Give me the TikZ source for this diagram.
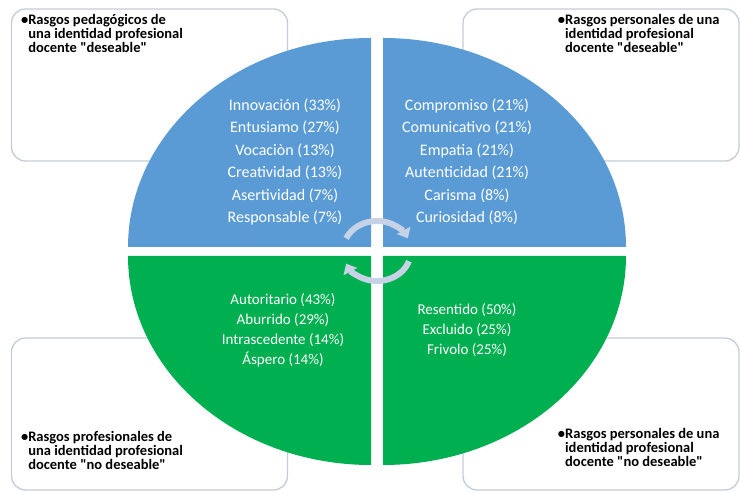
\documentclass[tikz,border=0pt]{standalone}
\usepackage{fontspec}
\setmainfont{Carlito}
\usetikzlibrary{positioning,arrows.meta}

\definecolor{quadblue}{HTML}{5B9BD5}
\definecolor{quadgreen}{HTML}{00B050}
\definecolor{panelline}{HTML}{C3CDD9}
\definecolor{cyclegray}{HTML}{C8D2E6}

\tikzset{
  panel/.style={draw=panelline, line width=1.3pt, fill=white, rounded corners=14pt,
    minimum width=276pt, minimum height=152pt, inner sep=0pt},
  paneltext/.style={font=\fontsize{14.5}{14}\selectfont\bfseries, align=left, inner sep=0pt},
  traits/.style={text=white, align=center, inner sep=0pt, font=\fontsize{16}{22.5}\selectfont},
  lowtraits/.style={traits, font=\fontsize{15}{20}\selectfont},
  cyclearrow/.style={draw=cyclegray, line width=6pt, -{Triangle[length=9pt,width=15pt]}}
}
\newcommand{\qq}[1]{\textquotedbl#1\textquotedbl}

\begin{document}
\begin{tikzpicture}[x=1pt,y=1pt]
\useasboundingbox (0,0) rectangle (740,492);

% panels behind the circle
\node[panel] (pedbox) at (149.5,407) {};
\node[panel] (perbox) at (601,407) {};
\node[panel] (profbox) at (149.5,78) {};
\node[panel] (negbox) at (601,78) {};

\node[paneltext, below right=6pt and 10pt of pedbox.north west] (pedtitle)
  {\textbullet Rasgos pedagógicos de\\ \hphantom{\textbullet}una identidad profesional\\ \hphantom{\textbullet}docente \qq{deseable}};
\node[paneltext, below left=6pt and 20pt of perbox.north east] (pertitle)
  {\textbullet Rasgos personales de una\\ \hphantom{\textbullet}identidad profesional\\ \hphantom{\textbullet}docente \qq{deseable}};
\node[paneltext, above right=21pt and 10pt of profbox.south west] (proftitle)
  {\textbullet Rasgos profesionales de\\ \hphantom{\textbullet}una identidad profesional\\ \hphantom{\textbullet}docente \qq{no deseable}};
\node[paneltext, above left=24pt and 20pt of negbox.south east] (negtitle)
  {\textbullet Rasgos personales de una\\ \hphantom{\textbullet}identidad profesional\\ \hphantom{\textbullet}docente \qq{no deseable}};

% four quarters
\fill[quadblue] (371,245) -- (128,245) arc[start angle=180, end angle=90, x radius=243, y radius=209] -- cycle;
\fill[quadblue] (383,245) -- (383,454) arc[start angle=90, end angle=0, x radius=243, y radius=209] -- cycle;
\fill[quadgreen] (371,236) -- (371,27) arc[start angle=270, end angle=180, x radius=243, y radius=209] -- cycle;
\fill[quadgreen] (383,236) -- (626,236) arc[start angle=0, end angle=-90, x radius=243, y radius=209] -- cycle;

\node[traits] (pedlist) at (285,330)
  {Innovación (33\%)\\ Entusiamo (27\%)\\ Vocaciòn (13\%)\\ Creatividad (13\%)\\ Asertividad (7\%)\\ Responsable (7\%)};
\node[traits] (perlist) at (467,330)
  {Compromiso (21\%)\\ Comunicativo (21\%)\\ Empatia (21\%)\\ Autenticidad (21\%)\\ Carisma (8\%)\\ Curiosidad (8\%)};
\node[lowtraits] (proflist) at (283,162)
  {Autoritario (43\%)\\ Aburrido (29\%)\\ Intrascedente (14\%)\\ Áspero (14\%)};
\node[lowtraits] (neglist) at (467,162)
  {Resentido (50\%)\\ Excluido (25\%)\\ Frivolo (25\%)};

% turning arrows
\coordinate (hub) at (377,241);
\draw[cyclearrow] ([shift={(155:34 and 30)}]hub) arc[start angle=155, end angle=25, x radius=34, y radius=30];
\draw[cyclearrow] ([shift={(-20:34 and 30)}]hub) arc[start angle=-20, end angle=-155, x radius=34, y radius=30];

\end{tikzpicture}
\end{document}
